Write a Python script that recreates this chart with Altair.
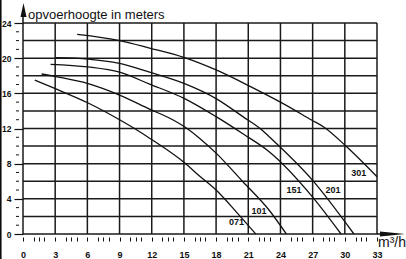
import altair as alt
import pandas as pd

# ---- data ----
series_names = ["071", "101", "151", "201", "301"]
q071 = [1.1, 3.07, 6.07, 9.0, 10.4, 11.8, 15.06, 16.45, 18.0, 20.0, 21.7]
h071 = [17.5, 16.5, 14.9, 13.0, 12.0, 10.9, 8.1, 6.6, 5.0, 2.35, 0.0]
q101 = [1.74, 3.07, 6.07, 9.0, 11.8, 14.0, 15.06, 16.45, 18.0, 20.5, 22.95, 24.55]
h101 = [18.2, 17.9, 17.1, 15.8, 14.2, 12.97, 12.2, 10.9, 9.2, 5.95, 2.7, 0.0]
q151 = [2.57, 6.07, 9.0, 11.8, 15.06, 18.0, 20.5, 22.95, 27.0, 29.65]
h151 = [19.3, 19.0, 18.4, 17.05, 15.4, 13.35, 11.4, 9.36, 4.2, 0.0]
q201 = [3.07, 6.07, 9.0, 11.8, 15.06, 18.0, 20.5, 22.3, 22.95, 27.0, 30.85]
h201 = [20.06, 19.9, 19.4, 18.4, 17.1, 15.4, 13.35, 11.8, 11.07, 6.1, 0.0]
q301 = [5.05, 9.0, 11.8, 15.06, 18.0, 21.16, 24.0, 26.9, 28.0, 30.17, 33.0]
h301 = [22.7, 22.0, 21.15, 20.06, 18.66, 16.8, 15.0, 12.97, 12.2, 9.93, 6.52]

label_q = [19.9, 22.0, 25.26, 28.9, 31.3]
label_h = [1.31, 2.6, 4.97, 4.97, 6.97]

grid_x = [0, 3, 6, 9, 12, 15, 18, 21, 24, 27, 30, 33]
grid_y = [0, 2, 4, 6, 8, 10, 12, 14, 16, 18, 20, 22, 24]
y_labels = [0, 4, 8, 12, 16, 20, 24]
y_minor = [1, 2, 3, 5, 6, 7, 9, 10, 11, 13, 14, 15, 17, 18, 19, 21, 22, 23]
x_ticks = []
for b in range(0, 33, 3):
    x_ticks += [b, b + 1, b + 1.5, b + 2]
x_ticks.append(33)

y_title = "opvoerhoogte in meters"
x_title = "m³/h"

# ---- build tables ----
rows = []
for name, qs, hs in zip(series_names, [q071, q101, q151, q201, q301],
                        [h071, h101, h151, h201, h301]):
    for q, h in zip(qs, hs):
        rows.append({"pump": name, "q": q, "h": h})
curves_df = pd.DataFrame(rows)
labels_df = pd.DataFrame({"pump": series_names, "q": label_q, "h": label_h})
gx_df = pd.DataFrame({"q": grid_x})
gy_df = pd.DataFrame({"h": grid_y})
ym_df = pd.DataFrame({"h": y_minor})
one = pd.DataFrame({"k": [0]})

W, H = 354, 211
FONT = "Liberation Sans"
INK = "#111111"
xs = alt.Scale(domain=[0, 33], nice=False, zero=False)
ys = alt.Scale(domain=[0, 24], nice=False, zero=False)

x_axis = alt.Axis(values=x_ticks, domain=False, grid=False, offset=3,
                  tickSize=4, tickColor=INK, tickWidth=1,
                  labelExpr="datum.value % 3 == 0 ? datum.label : ''",
                  labelPadding=9, labelFont=FONT, labelFontSize=9,
                  labelFontWeight="bold", labelColor=INK,
                  labelFlush=False, labelOverlap=False)
y_axis = alt.Axis(values=y_labels, domain=False, grid=False,
                  tickSize=9, tickColor=INK, tickWidth=1.2,
                  labelPadding=3, labelFont=FONT, labelFontSize=8.5,
                  labelFontWeight="bold", labelColor=INK,
                  labelFlush=False, labelOverlap=False)

X = alt.X("q:Q", scale=xs, title=None, axis=x_axis)
Y = alt.Y("h:Q", scale=ys, title=None, axis=y_axis)

grid_v = alt.Chart(gx_df).mark_rule(color="#1a1a1a", strokeWidth=1.5).encode(x=X)
grid_h = alt.Chart(gy_df).mark_rule(color="#1a1a1a", strokeWidth=1.5).encode(y=Y)

curves = alt.Chart(curves_df).mark_line(
    color=INK, strokeWidth=1.3, interpolate="monotone").encode(
    x=X, y=Y, detail="pump:N", order="q:Q")

labels = alt.Chart(labels_df).mark_text(
    font=FONT, fontSize=9, fontWeight="bold", color=INK,
    align="center", baseline="middle").encode(x=X, y=Y, text="pump:N")

minor_y = alt.Chart(ym_df).mark_rule(color=INK, strokeWidth=1).encode(
    y=Y, x=alt.value(-7), x2=alt.value(-4))

# axis arrows and titles (decoration)
y_shaft = alt.Chart(one).mark_rule(color=INK, strokeWidth=1.5).encode(
    x=alt.value(0), y=alt.value(0), y2=alt.value(-8))
y_head = alt.Chart(one).mark_point(
    shape="M-0.43,1 L0,-1 L0.43,1 Z", filled=True, color=INK, opacity=1,
    size=196, strokeWidth=0).encode(x=alt.value(0.5), y=alt.value(-13))
x_shaft = alt.Chart(one).mark_rule(color=INK, strokeWidth=1.5).encode(
    y=alt.value(H), x=alt.value(W), x2=alt.value(W + 8))
x_head = alt.Chart(one).mark_point(
    shape="M-1,-0.2 L1,0 L-1,0.2 Z", filled=True, color=INK, opacity=1,
    size=625, strokeWidth=0).encode(x=alt.value(W + 15.5), y=alt.value(H))
y_text = alt.Chart(one).mark_text(
    text=y_title, font=FONT, fontSize=13, color=INK,
    align="left", baseline="alphabetic").encode(
    x=alt.value(5), y=alt.value(-4.5))
x_text = alt.Chart(one).mark_text(
    text=x_title, font=FONT, fontSize=14, color=INK,
    align="left", baseline="alphabetic").encode(
    x=alt.value(W + 1), y=alt.value(H + 13))
edge = alt.Chart(one).mark_rule(color="#000000", strokeWidth=1.5).encode(
    x=alt.value(-22.2), y=alt.value(-23), y2=alt.value(H + 25))

chart = alt.layer(
    grid_v, grid_h, curves, labels, minor_y,
    y_shaft, y_head, x_shaft, x_head, y_text, x_text, edge
).properties(
    width=W, height=H,
    autosize=alt.AutoSizeParams(type="none"),
    padding={"left": 23, "top": 23, "right": 29, "bottom": 25},
    background="white",
).configure_view(stroke=None)

chart.save("out.html", embed_options={"renderer": "svg", "actions": False})
